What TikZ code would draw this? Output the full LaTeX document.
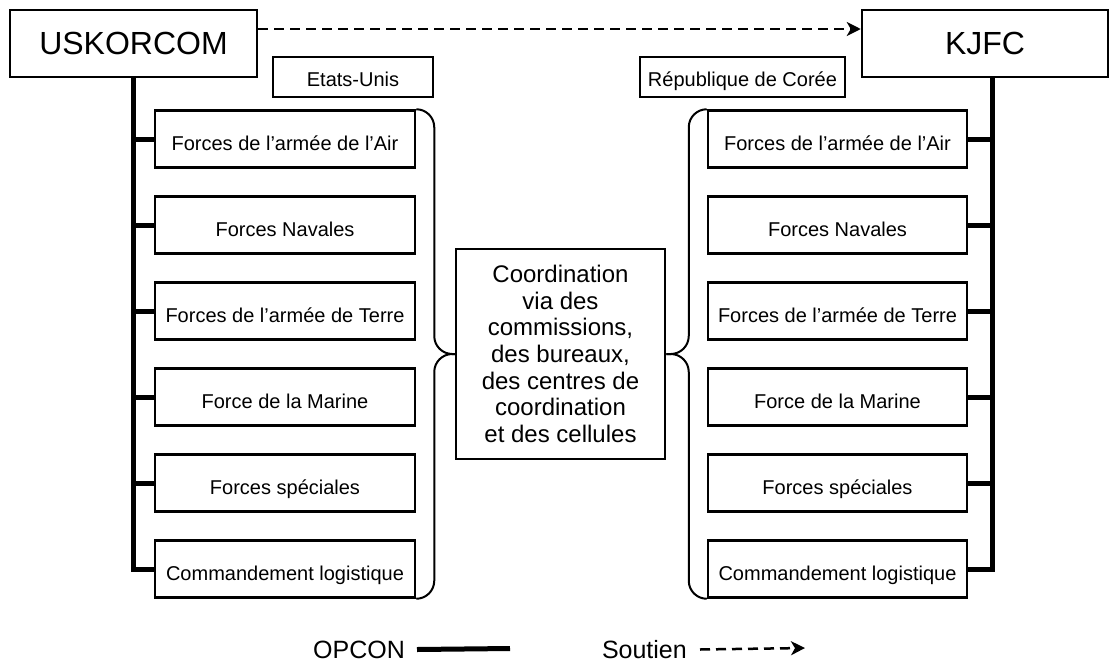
\documentclass[tikz,border=0pt]{standalone}
\usepackage{fontspec}
\setmainfont{Liberation Sans}
\usetikzlibrary{arrows.meta, positioning}

\begin{document}
\begin{tikzpicture}[
  x=1pt, y=-1pt,
  node distance=26.5pt,
  box/.style={draw, line width=2.5pt, align=center, inner sep=2pt, font=\fontsize{20}{24}\selectfont},
  cmd/.style={box, minimum width=247pt, minimum height=67pt, font=\fontsize{32}{36}\selectfont},
  side/.style={box, minimum height=40pt, text height=19pt, text depth=0pt},
  unit/.style={box, minimum width=260pt, minimum height=57pt, text height=22pt, text depth=0pt},
  hub/.style={box, minimum width=209pt, minimum height=210pt, font=\fontsize{24}{26.7}\selectfont},
  opcon/.style={line width=5pt},
  soutien/.style={-{Stealth[length=14pt, width=14pt, inset=4pt]}, line width=2.5pt, dash pattern=on 10pt off 6pt},
  brace/.style={line width=2pt, rounded corners=18pt},
  lgd/.style={font=\fontsize{25}{30}\selectfont, inner sep=0pt}
]
\useasboundingbox (0,0) rectangle (1109,662);

% commandements
\node[cmd] (uskorcom) at (133.5,43.5) {USKORCOM};
\node[cmd, minimum width=246pt] (kjfc) at (985,43.5) {KJFC};
\node[side, minimum width=160pt] (etats) at (353,77) {Etats-Unis};
\node[side, minimum width=205pt] (coree) at (742.5,77) {République de Corée};

% composantes US
\node[unit] (usair) at (285,139) {Forces de l’armée de l’Air};
\node[unit, below=of usair] (usnavy) {Forces Navales};
\node[unit, below=of usnavy] (usarmy) {Forces de l’armée de Terre};
\node[unit, below=of usarmy] (usmarine) {Force de la Marine};
\node[unit, below=of usmarine] (ussof) {Forces spéciales};
\node[unit, below=of ussof] (uslog) {Commandement logistique};

% composantes ROK
\node[unit, minimum width=259pt] (rokair) at (837.5,139) {Forces de l’armée de l’Air};
\node[unit, minimum width=259pt, below=of rokair] (roknavy) {Forces Navales};
\node[unit, minimum width=259pt, below=of roknavy] (rokarmy) {Forces de l’armée de Terre};
\node[unit, minimum width=259pt, below=of rokarmy] (rokmarine) {Force de la Marine};
\node[unit, minimum width=259pt, below=of rokmarine] (roksof) {Forces spéciales};
\node[unit, minimum width=259pt, below=of roksof] (roklog) {Commandement logistique};

\node[hub] (coordbox) at (560.5,354) {Coordination\\via des\\commissions,\\des bureaux,\\des centres de\\coordination\\et des cellules};

% OPCON
\draw[opcon] (uskorcom.south) |- (uslog.west);
\draw[opcon] (usair.west) -- (usair.west -| uskorcom.south);
\draw[opcon] (usnavy.west) -- (usnavy.west -| uskorcom.south);
\draw[opcon] (usarmy.west) -- (usarmy.west -| uskorcom.south);
\draw[opcon] (usmarine.west) -- (usmarine.west -| uskorcom.south);
\draw[opcon] (ussof.west) -- (ussof.west -| uskorcom.south);

\coordinate (kjfcdrop) at ([xshift=7pt]kjfc.south);
\draw[opcon] (kjfcdrop) |- (roklog.east);
\draw[opcon] (rokair.east) -- (rokair.east -| kjfcdrop);
\draw[opcon] (roknavy.east) -- (roknavy.east -| kjfcdrop);
\draw[opcon] (rokarmy.east) -- (rokarmy.east -| kjfcdrop);
\draw[opcon] (rokmarine.east) -- (rokmarine.east -| kjfcdrop);
\draw[opcon] (roksof.east) -- (roksof.east -| kjfcdrop);

% soutien
\draw[soutien] ([yshift=14.5pt]uskorcom.east) -- ([yshift=14.5pt]kjfc.west);

% accolades
\draw[brace] (usair.north east) -- ++(18,0) |- (coordbox.west);
\draw[brace] (uslog.south east) -- ++(18,0) |- (coordbox.west);
\draw[brace] (rokair.north west) -- ++(-18,0) |- (coordbox.east);
\draw[brace] (roklog.south west) -- ++(-18,0) |- (coordbox.east);

% legende
\node[lgd, anchor=east] (opconlbl) at (405,649.5) {OPCON};
\coordinate (opconend) at (510,648.5);
\draw[opcon] ([xshift=12pt]opconlbl.east) -- (opconend);
\node[lgd, anchor=east] (soutienlbl) at (687,649.5) {Soutien};
\coordinate (soutienend) at (805,648);
\draw[soutien] ([xshift=13pt]soutienlbl.east) -- (soutienend);
\end{tikzpicture}
\end{document}
